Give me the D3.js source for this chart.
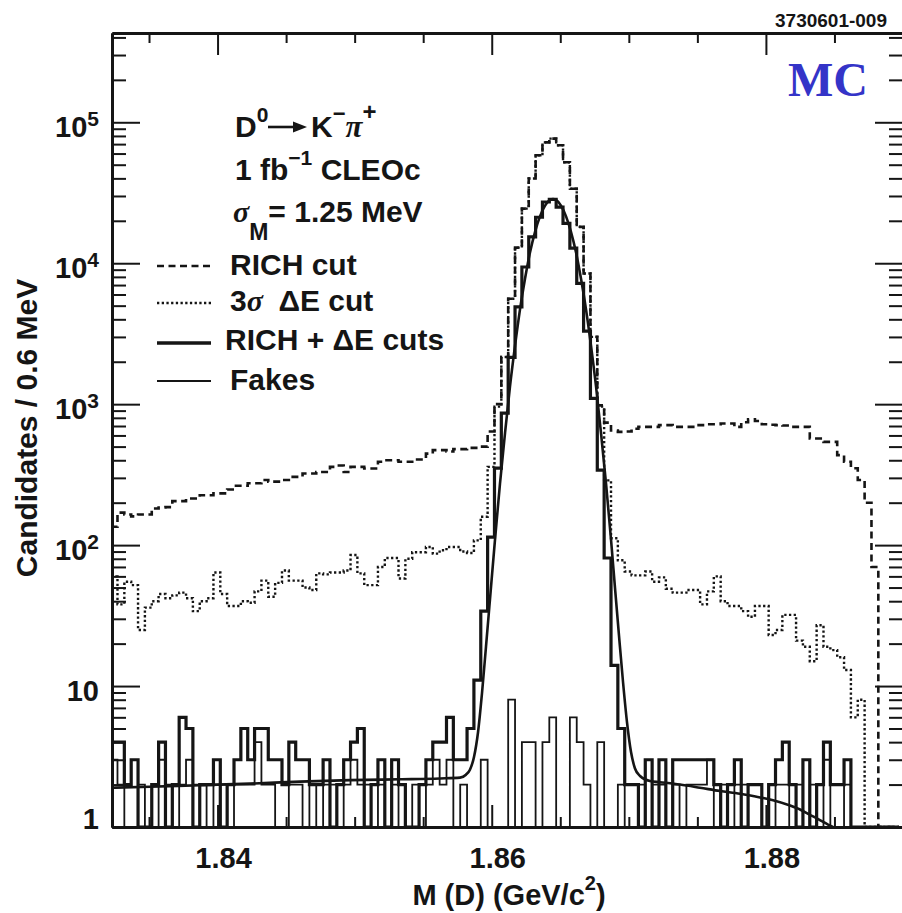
<!DOCTYPE html>
<html><head><meta charset="utf-8">
<script src="https://cdn.jsdelivr.net/npm/d3@7"></script>
<style>
html,body{margin:0;padding:0;background:#fff;}
svg{display:block;}
text{font-family:"Liberation Sans",Arial,sans-serif;font-weight:bold;fill:#151515;}
.serif{font-family:"Liberation Serif","Times New Roman",serif;font-style:italic;font-weight:bold;}
</style></head><body>
<svg id="c" width="902" height="913"></svg>
<script>
// ---- data (bins of 0.5 MeV in the drawing, starting at binStart) ----
const binStart = 1.8322, binWidth = 0.0005;
const richCut = [135,170,165,160,165,165,182,185,186,205,
  205,214,214,226,226,233,233,248,264,264,
  275,275,290,282,282,290,305,305,322,322,
  330,330,359,367,330,359,359,350,350,390,
  400,400,390,390,405,405,446,472,472,462,
  480,480,490,490,500,640,1000,2160,5600,12900,
  24400,39900,58300,72000,76600,68700,52000,33800,18100,8450,
  3000,980,740,650,636,640,670,690,690,690,
  710,710,690,690,690,710,710,720,720,730,
  730,690,745,780,760,720,715,710,705,690,
  690,690,571,571,540,540,435,390,351,290,
  200,70,0,0,0];
const deltaECut = [60,38,55,52,25,36,40,45,42,44,
  46,42,34,40,42,64,45,37,37,40,
  39,47,56,43,54,66,56,56,50,48,
  63,62,64,64,66,85,63,52,52,70,
  81,81,58,80,89,89,97,87,92,97,
  97,90,88,108,159,359,960,2160,5600,12900,
  24400,39900,58300,72000,76600,68700,52000,33800,18100,8450,
  3000,960,288,112,78,65,61,61,65,55,
  59,49,46,46,48,48,38,47,60,40,
  37,37,34,31,37,37,23,25,32,32,
  21,19,15,27,19,18,16,13,6,8,
  0,0,0,0,0];
const richDeltaE = [4,4,2,3,1,1,2,4,1,2,
  6,5,1,2,2,3,1,2,3,5,
  3,5,5,3,3,2,4,3,3,2,
  2,3,1,2,3,4,5,1,2,3,
  1,3,2,1,1,2,3,4,4,6,
  3,3,5,11,34,114,352,864,2150,4900,
  9400,15400,21200,27200,28400,25000,19200,12800,7200,3300,
  1100,340,81,14,5,2,2,1,3,1,
  3,1,3,3,3,3,3,3,2,1,
  2,3,1,2,2,1,2,3,4,2,
  1,3,1,2,4,2,2,3,0,0,
  0,0,0,0,0];
const fakes = [3,2,1,1,2,1,1,3,2,1,
  2,3,2,2,1,2,2,1,2,2,
  2,4,2,2,1,1,2,2,1,2,
  1,2,2,1,2,3,2,2,1,2,
  1,2,1,1,2,1,2,3,2,3,
  1,2,1,1,3,1,1,1,8,1,
  4,4,1,4,6,1,1,6,4,2,
  1,4,1,1,2,1,1,2,1,2,
  2,1,2,1,2,2,2,3,1,2,
  1,2,2,1,1,1,1,2,2,1,
  2,1,2,1,3,1,1,2,0,0,
  0,0,0,0,0];
const fitMass = [1.8323,1.83507,1.83872,1.84237,1.84601,1.84966,1.85331,1.85623,1.85769,1.85812,
  1.85841,1.85871,1.85900,1.85929,1.85958,1.85987,1.86024,1.86060,1.86097,1.86133,
  1.86170,1.86206,1.86243,1.86279,1.86316,1.86352,1.86389,1.86425,1.86447,1.86469,
  1.86505,1.86542,1.86578,1.86615,1.86651,1.86688,1.86724,1.86761,1.86797,1.86834,
  1.86870,1.86899,1.86928,1.86958,1.86987,1.87016,1.87045,1.87082,1.87154,1.87227,
  1.87373,1.87519,1.87665,1.87811,1.87957,1.88052,1.88176,1.88249,1.88322,1.88394,
  1.88453,1.88489];
const fitValue = [1.9,1.93,1.98,2.03,2.1,2.15,2.18,2.21,2.24,2.35,
  2.55,3.15,4.7,8.9,19,41,110,272,625,1330,
  2600,4690,7780,11900,16700,21500,25600,28100,28500,28100,
  25600,21500,16700,11900,7780,4690,2600,1330,625,272,
  110,50,23,10.6,5.5,3.4,2.6,2.3,2.12,2.08,
  2.0,1.9,1.8,1.72,1.62,1.55,1.42,1.33,1.22,1.12,
  1.04,1.0];
const xTicks = [1.84, 1.86, 1.88];
const xTickLabels = ["1.84", "1.86", "1.88"];
const xMinorTicks = [1.835, 1.845, 1.85, 1.855, 1.865, 1.87, 1.875, 1.885];
const yTicks = [1, 10, 100, 1000, 10000, 100000];
const yTickBase = ["1", "10", "10", "10", "10", "10"];
const yTickExp = ["", "", "2", "3", "4", "5"];
const legendLabels = ["RICH cut", "3σ  ΔE cut", "RICH + ΔE cuts", "Fakes"];

// ---- drawing ----
const L = 112, R = 903, T = 33, B = 827;
const svg = d3.select("#c");
const x = d3.scaleLinear().domain([1.8323, 1.89]).range([L, R]);
const y = d3.scaleLog().domain([1, 4.3e5]).range([B, T]);

svg.append("defs").append("clipPath").attr("id", "clip")
  .append("rect").attr("x", L).attr("y", T).attr("width", R - L).attr("height", B - T);
const g = svg.append("g").attr("clip-path", "url(#clip)");

function stepPts(vals) {
  const pts = vals.map((v, i) => [binStart + i * binWidth, Math.max(v, 1)]);
  pts.push([binStart + vals.length * binWidth, Math.max(vals[vals.length - 1], 1)]);
  return pts;
}
const stepLine = d3.line().x(d => x(d[0])).y(d => y(d[1])).curve(d3.curveStepAfter);

g.append("path").attr("d", stepLine(stepPts(richCut)))
  .attr("fill", "none").attr("stroke", "#151515").attr("stroke-width", 2.6).attr("stroke-dasharray", "7,4.5");
g.append("path").attr("d", stepLine(stepPts(deltaECut)))
  .attr("fill", "none").attr("stroke", "#151515").attr("stroke-width", 2.4).attr("stroke-dasharray", "2.3,2.4");
g.append("path").attr("d", stepLine(stepPts(fakes)))
  .attr("fill", "none").attr("stroke", "#151515").attr("stroke-width", 1.8);
g.append("path").attr("d", stepLine(stepPts(richDeltaE)))
  .attr("fill", "none").attr("stroke", "#151515").attr("stroke-width", 3.2);
const fitLine = d3.line().x(d => x(d[0])).y(d => y(d[1])).curve(d3.curveMonotoneX);
g.append("path").attr("d", fitLine(fitMass.map((m, i) => [m, fitValue[i]])))
  .attr("fill", "none").attr("stroke", "#151515").attr("stroke-width", 2.6);

// axes
const yMinor = y.ticks().filter(v => !yTicks.includes(v));
function styleAxis(sel, domainW) {
  sel.selectAll("text").remove();
  sel.select(".domain").attr("stroke", "#151515").attr("stroke-width", domainW);
  sel.selectAll(".tick line").attr("stroke", "#151515").attr("stroke-width", 2);
}
svg.append("g").attr("transform", `translate(${L},0)`)
  .call(d3.axisLeft(y).tickValues(yTicks).tickSize(-28).tickSizeOuter(0).tickFormat(""))
  .call(s => styleAxis(s, 3));
svg.append("g").attr("transform", `translate(${L},0)`)
  .call(d3.axisLeft(y).tickValues(yMinor).tickSize(-14).tickSizeOuter(0).tickFormat(""))
  .call(s => styleAxis(s, 3));
svg.append("g").attr("transform", `translate(${R},0)`)
  .call(d3.axisRight(y).tickValues(yTicks).tickSize(-28).tickSizeOuter(0).tickFormat(""))
  .call(s => styleAxis(s, 3));
svg.append("g").attr("transform", `translate(${R},0)`)
  .call(d3.axisRight(y).tickValues(yMinor).tickSize(-14).tickSizeOuter(0).tickFormat(""))
  .call(s => styleAxis(s, 3));
svg.append("g").attr("transform", `translate(0,${T})`)
  .call(d3.axisTop(x).tickValues(xTicks).tickSize(-22).tickSizeOuter(0).tickFormat(""))
  .call(s => styleAxis(s, 3));
svg.append("g").attr("transform", `translate(0,${T})`)
  .call(d3.axisTop(x).tickValues(xMinorTicks).tickSize(-10).tickSizeOuter(0).tickFormat(""))
  .call(s => styleAxis(s, 3));
svg.append("g").attr("transform", `translate(0,${B})`)
  .call(d3.axisBottom(x).tickValues(xTicks).tickSize(-22).tickSizeOuter(0).tickFormat(""))
  .call(s => styleAxis(s, 3));
svg.append("g").attr("transform", `translate(0,${B})`)
  .call(d3.axisBottom(x).tickValues(xMinorTicks).tickSize(-10).tickSizeOuter(0).tickFormat(""))
  .call(s => styleAxis(s, 3));

// tick labels
xTicks.forEach((v, i) => {
  svg.append("text").attr("x", x(v) + 6).attr("y", 868).attr("text-anchor", "middle")
    .attr("font-size", 29).text(xTickLabels[i]);
});
yTicks.forEach((v, i) => {
  const t = svg.append("text").attr("x", 99).attr("y", v === 1 ? y(v) + 2 : y(v) + 15)
    .attr("text-anchor", "end").attr("font-size", 29);
  t.append("tspan").text(yTickBase[i]);
  if (yTickExp[i]) t.append("tspan").attr("font-size", 21).attr("dy", -11).text(yTickExp[i]);
});

// axis titles
const xt = svg.append("text").attr("x", 509).attr("y", 905).attr("text-anchor", "middle").attr("font-size", 29);
xt.append("tspan").text("M (D) (GeV/c");
xt.append("tspan").attr("font-size", 20).attr("dy", -15).text("2");
xt.append("tspan").attr("dy", 15).text(")");
svg.append("text").attr("transform", "translate(37,428) rotate(-90)").attr("text-anchor", "middle")
  .attr("font-size", 30).text("Candidates / 0.6 MeV");

// id and MC
svg.append("text").attr("x", 887).attr("y", 27).attr("text-anchor", "end").attr("font-size", 19).text("3730601-009");
svg.append("text").attr("x", 868).attr("y", 96).attr("text-anchor", "end")
  .style("font-family", '"Liberation Serif","Times New Roman",serif').style("font-weight", "bold")
  .style("fill", "#3434c8").attr("font-size", 48).text("MC");

// decay annotation
const d1 = svg.append("text").attr("x", 235).attr("y", 137).attr("font-size", 30);
d1.append("tspan").text("D");
d1.append("tspan").attr("font-size", 21).attr("dy", -15).text("0");
svg.append("line").attr("x1", 268).attr("x2", 297).attr("y1", 127).attr("y2", 127)
  .attr("stroke", "#151515").attr("stroke-width", 2.6);
svg.append("path").attr("d", "M293,121.5L307,127L293,132.5Z").attr("fill", "#151515");
const d2 = svg.append("text").attr("x", 311).attr("y", 137).attr("font-size", 30);
d2.append("tspan").text("K");
d2.append("tspan").attr("font-size", 22).attr("dy", -16).text("−");
d2.append("tspan").attr("class", "serif").attr("font-size", 31).attr("dy", 16).text("π");
d2.append("tspan").attr("font-size", 24).attr("dy", -17).text("+");

const l2 = svg.append("text").attr("x", 235).attr("y", 180).attr("font-size", 30);
l2.append("tspan").text("1 fb");
l2.append("tspan").attr("font-size", 21).attr("dy", -15).text("−1");
l2.append("tspan").attr("dy", 15).text(" CLEOc");

const l3 = svg.append("text").attr("x", 233).attr("y", 222).attr("font-size", 30);
l3.append("tspan").attr("class", "serif").text("σ");
l3.append("tspan").attr("font-size", 23).attr("dy", 18).text("M");
l3.append("tspan").attr("dy", -18).text("= 1.25 MeV");

// legend
const legY = [266, 303, 343, 381];
const legText = [275, 311, 350, 390];
const legX = [230, 230, 225, 230];
const legStyle = [
  {w: 2.6, dash: "7,4.5"}, {w: 2.4, dash: "2.3,2.4"}, {w: 3.4, dash: null}, {w: 1.8, dash: null}];
legendLabels.forEach((lab, i) => {
  const ln = svg.append("line").attr("x1", 157).attr("x2", 211).attr("y1", legY[i]).attr("y2", legY[i])
    .attr("stroke", "#151515").attr("stroke-width", legStyle[i].w);
  if (legStyle[i].dash) ln.attr("stroke-dasharray", legStyle[i].dash);
  const t = svg.append("text").attr("x", legX[i]).attr("y", legText[i]).attr("font-size", 30)
    .style("white-space", "pre");
  if (lab.includes("σ")) {
    const parts = lab.split("σ");
    t.append("tspan").text(parts[0]);
    t.append("tspan").attr("class", "serif").text("σ");
    t.append("tspan").text(parts[1]);
  } else {
    t.text(lab);
  }
});
</script>
</body></html>
